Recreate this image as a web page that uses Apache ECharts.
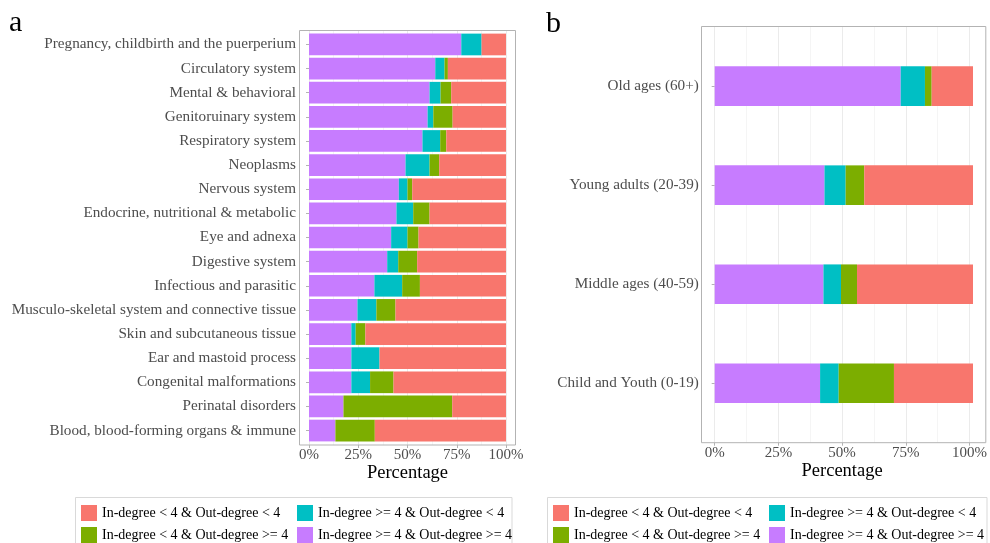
<!DOCTYPE html>
<html>
<head>
<meta charset="utf-8">
<title>In-degree / Out-degree composition</title>
<script src="https://cdn.jsdelivr.net/npm/echarts@6/dist/echarts.min.js"></script>
<style>
  html, body { margin: 0; padding: 0; background: #ffffff; }
  #chart { width: 990px; height: 543px; }
</style>
</head>
<body>
<div id="chart"></div>
<script>
// ---- Panel a: disease chapters (top to bottom) ----
const chapters = [
  'Pregnancy, childbirth and the puerperium',
  'Circulatory system',
  'Mental & behavioral',
  'Genitoruinary system',
  'Respiratory system',
  'Neoplasms',
  'Nervous system',
  'Endocrine, nutritional & metabolic',
  'Eye and adnexa',
  'Digestive system',
  'Infectious and parasitic',
  'Musculo-skeletal system and connective tissue',
  'Skin and subcutaneous tissue',
  'Ear and mastoid process',
  'Congenital malformations',
  'Perinatal disorders',
  'Blood, blood-forming organs & immune'
];
// percentages per group, same order as chapters
const chapHiHi = [77.3, 64.1, 61.2, 60.2, 57.6, 49.0, 45.6, 44.4, 41.7, 39.7, 33.2, 24.6, 21.5, 21.5, 21.5, 17.5, 13.4];
const chapHiLo = [10.3, 4.7, 5.6, 2.9, 9.0, 12.2, 4.4, 8.5, 8.3, 5.6, 14.1, 9.6, 2.2, 14.3, 9.5, 0, 0];
const chapLoHi = [0, 1.7, 5.4, 9.8, 3.1, 4.9, 2.4, 8.3, 5.6, 9.6, 9.0, 9.7, 4.9, 0, 11.9, 55.2, 20.0];
const chapLoLo = [12.4, 29.5, 27.8, 27.1, 30.3, 33.9, 47.6, 38.8, 44.4, 45.1, 43.7, 56.1, 71.4, 64.2, 57.1, 27.3, 66.6];

// ---- Panel b: age groups (top to bottom) ----
const ageGroups = ['Old ages (60+)', 'Young adults (20-39)', 'Middle ages (40-59)', 'Child and Youth (0-19)'];
const ageHiHi = [72.0, 42.5, 42.1, 40.8];
const ageHiLo = [9.4, 8.2, 6.8, 7.2];
const ageLoHi = [2.6, 7.2, 6.2, 21.4];
const ageLoLo = [16.0, 42.1, 44.9, 30.6];

// group names and colours (stack order: left to right)
const groupNames = [
  'In-degree >= 4 & Out-degree >= 4',
  'In-degree >= 4 & Out-degree < 4',
  'In-degree < 4 & Out-degree >= 4',
  'In-degree < 4 & Out-degree < 4'
];
const groupColors = ['#C77CFF', '#00BFC4', '#7CAE00', '#F8766D'];

const SERIF = '"Liberation Serif", "Times New Roman", serif';
const FRAME = '#b3b3b3';

function makeSeries(values, axisIdx, stackId, barWidth) {
  return values.map((vals, i) => ({
    name: groupNames[i],
    type: 'bar',
    stack: stackId,
    xAxisIndex: axisIdx,
    yAxisIndex: axisIdx,
    barWidth: barWidth,
    itemStyle: { color: groupColors[i] },
    emphasis: { disabled: true },
    data: vals
  }));
}

// value axis of a bar grid (hidden; the scale is shown by the frame grid)
function barXAxis(gridIdx) {
  return { type: 'value', gridIndex: gridIdx, min: 0, max: 100, show: false, splitLine: { show: false } };
}

// value axis of a frame grid: gridlines, ticks, labels and title
function frameXAxis(gridIdx) {
  return {
    type: 'value', gridIndex: gridIdx, min: 0, max: 100, interval: 25,
    axisLine: { show: false },
    axisTick: { show: true, length: 3, lineStyle: { color: FRAME } },
    minorTick: { show: false, splitNumber: 2 },
    axisLabel: { formatter: '{value}%', color: '#4d4d4d', fontFamily: SERIF, fontSize: 15, margin: 3 },
    splitLine: { show: true, lineStyle: { color: '#ebebeb', width: 1 } },
    minorSplitLine: { show: true, lineStyle: { color: '#f5f5f5', width: 1 } },
    name: 'Percentage', nameLocation: 'middle', nameGap: 18.5, nameMoveOverlap: false,
    nameTextStyle: { color: '#000', fontFamily: SERIF, fontSize: 18.5 }
  };
}

function catYAxis(gridIdx, cats, offset) {
  return {
    type: 'category', gridIndex: gridIdx, data: cats, inverse: true,
    offset: offset,
    axisLine: { show: false },
    axisTick: { show: true, alignWithLabel: true, length: 3, lineStyle: { color: FRAME } },
    axisLabel: { color: '#4d4d4d', fontFamily: SERIF, fontSize: 15.2, margin: 3 },
    splitLine: { show: false }
  };
}

function dummyYAxis(gridIdx) {
  return { type: 'value', gridIndex: gridIdx, show: false, min: 0, max: 1, splitLine: { show: false } };
}

// legend entries laid out in two rows x two columns
const legendOrder = [
  { idx: 3, col: 0, row: 0 },
  { idx: 1, col: 1, row: 0 },
  { idx: 2, col: 0, row: 1 },
  { idx: 0, col: 1, row: 1 }
];
function legendsAt(x0, colStep, y0, rowStep) {
  return legendOrder.map(o => ({
    data: [groupNames[o.idx]],
    left: x0 + o.col * colStep,
    top: y0 + o.row * rowStep,
    padding: 0,
    icon: 'rect',
    itemWidth: 16,
    itemHeight: 16,
    selectedMode: false,
    textStyle: { color: '#000', fontFamily: SERIF, fontSize: 14 }
  }));
}

const option = {
  animation: false,
  backgroundColor: '#ffffff',
  title: [
    { text: 'a', left: 9, top: 8, padding: 0, textStyle: { fontFamily: SERIF, fontSize: 30, fontWeight: 'normal', color: '#000' } },
    { text: 'b', left: 546, top: 9, padding: 0, textStyle: { fontFamily: SERIF, fontSize: 30, fontWeight: 'normal', color: '#000' } }
  ],
  grid: [
    // bar areas
    { left: 309, width: 197, top: 32.4, height: 410.2 },
    { left: 714.7, width: 258.3, top: 36.6, height: 396.2 },
    // full panel heights, for gridlines and the percentage scale
    { left: 309, width: 197, top: 30, height: 415, z: 0 },
    { left: 714.7, width: 258.3, top: 26.7, height: 416, z: 0 }
  ],
  xAxis: [barXAxis(0), barXAxis(1), frameXAxis(2), frameXAxis(3)],
  yAxis: [catYAxis(0, chapters, 10), catYAxis(1, ageGroups, 12.9), dummyYAxis(2), dummyYAxis(3)],
  legend: legendsAt(81, 216, 505, 22).concat(legendsAt(553, 216, 505, 22)),
  series: makeSeries([chapHiHi, chapHiLo, chapLoHi, chapLoLo], 0, 'chap', '90%')
    .concat(makeSeries([ageHiHi, ageHiLo, ageLoHi, ageLoLo], 1, 'age', '40%')),
  graphic: [
    // panel frames
    { type: 'rect', silent: true, z: 10, shape: { x: 299.5, y: 30.5, width: 216, height: 414.5 },
      style: { fill: 'none', stroke: FRAME, lineWidth: 1 } },
    { type: 'rect', silent: true, z: 10, shape: { x: 701.5, y: 26.5, width: 284.3, height: 416.2 },
      style: { fill: 'none', stroke: FRAME, lineWidth: 1 } },
    // legend boxes
    { type: 'rect', silent: true, z: 0, shape: { x: 75.5, y: 497.5, width: 436.5, height: 60 },
      style: { fill: 'none', stroke: '#d9d9d9', lineWidth: 1 } },
    { type: 'rect', silent: true, z: 0, shape: { x: 547.5, y: 497.5, width: 439.5, height: 60 },
      style: { fill: 'none', stroke: '#d9d9d9', lineWidth: 1 } }
  ]
};

const chart = echarts.init(document.getElementById('chart'), null, { renderer: 'canvas' });
chart.setOption(option);
</script>
</body>
</html>
